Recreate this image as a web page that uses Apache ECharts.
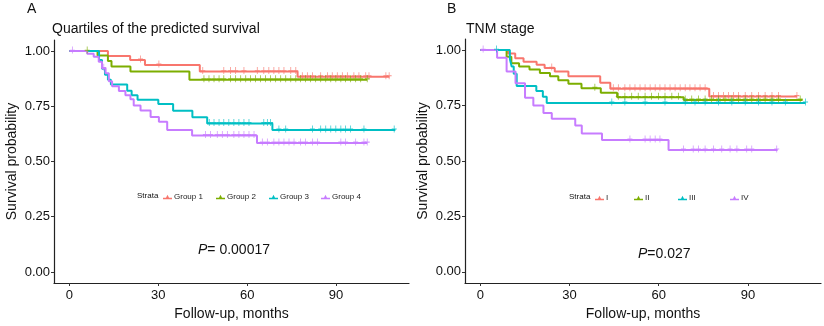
<!DOCTYPE html>
<html>
<head>
<meta charset="utf-8">
<script src="https://cdn.jsdelivr.net/npm/echarts@6/dist/echarts.min.js"></script>
<style>
  html, body { margin: 0; padding: 0; background: #fff; }
  #main { width: 824px; height: 326px; }
</style>
</head>
<body>
<div id="main"></div>
<script>
// ---- panel A: quartiles of predicted survival ----
const monthsA1 = [0, 13, 20.5, 25.5, 44, 77, 108];
const survA1 = [1, 0.978, 0.96, 0.937, 0.907, 0.884, 0.884];
const censorA1 = [24, 30.2, 45, 52.1, 54.4, 56.1, 58.9, 63.4, 65.6, 67.3, 69, 70.7, 72.4, 74.7, 76.4,
  78.6, 80.3, 82, 84.8, 87.1, 88.7, 90.4, 92.1, 93.8, 96, 97.7, 100, 101.1, 106.8, 107.9];

const monthsA2 = [0, 9.5, 13, 14.2, 20.6, 40.5, 100.5];
const survA2 = [1, 0.98, 0.955, 0.93, 0.907, 0.87, 0.87];
const censorA2 = [6, 45.4, 47.1, 48.8, 50.5, 52.1, 54.4, 56.1, 57.8, 59.5, 61.1, 62.8, 64.5, 66.2, 67.9,
  69.6, 71.3, 73, 74.7, 76.4, 78, 79.7, 81.4, 83.1, 84.8, 86.5, 88.2, 89.9, 91.6, 93.2, 94.9, 96.6, 98.3, 100.5];

const monthsA3 = [0, 10, 11, 12, 13, 14, 19.5, 21, 23, 30, 35, 41.5, 46.5, 68.5, 110];
const survA3 = [1, 0.96, 0.92, 0.893, 0.87, 0.848, 0.82, 0.8, 0.78, 0.76, 0.73, 0.7, 0.672, 0.643, 0.643];
const censorA3 = [47.2, 48.8, 50.5, 52.1, 53.8, 55.5, 57.2, 58.9, 60.6, 65.6, 66.8, 67.9, 70.7, 73, 82,
  84.8, 86.5, 88.2, 89.9, 91.6, 93.2, 94.9, 99.4, 109.6];

const monthsA4 = [0, 6, 8.2, 9.9, 11, 12.2, 13.3, 14.4, 16.7, 18.9, 20.6, 21.7, 24, 27.4, 30.2, 33, 41.4, 63.3, 100.5];
const survA4 = [1, 0.988, 0.974, 0.952, 0.922, 0.9, 0.863, 0.841, 0.819, 0.8, 0.782, 0.753, 0.731, 0.702, 0.68,
  0.643, 0.618, 0.584, 0.584];
const censorA4 = [1, 11.6, 45.9, 47.6, 49.9, 51.6, 53.3, 55.5, 57.2, 58.9, 60.6, 62.3, 65.1, 66.8, 69, 70.7,
  72.4, 74.1, 75.8, 78, 79.7, 82, 83.7, 91.6, 93.2, 96.6, 99.4, 100.5];

// ---- panel B: TNM stage ----
const monthsB1 = [0, 9.3, 11.7, 14.5, 18.9, 21.6, 25, 29.6, 40.3, 43.7, 77, 106.5];
const survB1 = [1, 0.985, 0.963, 0.948, 0.934, 0.919, 0.904, 0.882, 0.853, 0.826, 0.791, 0.791];
const censorB1 = [24, 44.7, 46.4, 48.6, 50.3, 52, 53.7, 55.4, 57.1, 58.8, 60.4, 62.1, 63.8, 65.5, 67.2, 68.9,
  70.5, 72.2, 73.9, 75.6, 78.4, 80.1, 81.8, 83.5, 85.2, 86.8, 89.1, 91.3, 93.6, 95.8, 98.1, 100.3, 106.5];

const monthsB2 = [0, 8.8, 10.4, 13, 16.5, 20, 23.4, 26.2, 29.6, 34, 40.5, 46, 68.4, 108.4];
const survB2 = [1, 0.97, 0.941, 0.926, 0.912, 0.897, 0.882, 0.864, 0.848, 0.828, 0.808, 0.787, 0.775, 0.775];
const censorB2 = [38.5, 46.4, 48.6, 50.9, 53.1, 55.4, 57.6, 59.9, 62.1, 64.4, 66.6, 68.9, 71.1, 73.4, 75.6,
  77.8, 80.1, 82.3, 84.6, 86.8, 89.1, 91.3, 93.6, 95.8, 98.1, 100.3, 107.6];

const monthsB3 = [0, 9.9, 10.5, 11.2, 12.2, 18.8, 21, 22.3, 109.4];
const survB3 = [1, 0.96, 0.926, 0.893, 0.838, 0.816, 0.79, 0.762, 0.762];
const censorB3 = [5.4, 44.2, 48.6, 55.4, 62.1, 68.9, 72.2, 75.6, 80.1, 84.6, 89.1, 93.6, 98.1, 102.6, 109.4];

const monthsB4 = [0, 5.6, 8.8, 11.8, 15, 17.8, 21.2, 24, 31.9, 34.1, 40.9, 63.3, 100];
const survB4 = [1, 0.965, 0.904, 0.85, 0.785, 0.75, 0.716, 0.69, 0.66, 0.624, 0.595, 0.55, 0.55];
const censorB4 = [0.9, 50.3, 55.4, 57.1, 58.8, 60.4, 68.3, 71.6, 73.4, 75.6, 78.4, 81.2, 84, 86.3, 89.6, 91.3, 99.7];

const groupNamesA = ['Group 1', 'Group 2', 'Group 3', 'Group 4'];
const groupNamesB = ['I', 'II', 'III', 'IV'];
const yTicks = [0, 0.25, 0.5, 0.75, 1];
const xTicks = [0, 30, 60, 90];

const colors = ['#F8766D', '#7CAE00', '#00BFC4', '#C77CFF'];
const font = "Arial, 'Liberation Sans', sans-serif";
const plusIcon = 'path://M0,4h9v1.4h-9z M3.8,0h1.4v9h-1.4z';
const keyIcon = 'path://M0,5h12v1.8h-12z M4,5L6,1L8,5z';

// survival level at time t (step function)
function survAt(times, surv, t) {
  let v = surv[0];
  for (let i = 0; i < times.length; i++) {
    if (times[i] <= t) v = surv[i];
  }
  return v;
}

function kmSeries(name, times, surv, censor, color, idx) {
  return [
    {
      name: name, type: 'line', step: 'end', xAxisIndex: idx, yAxisIndex: idx,
      data: times.map((t, i) => [t, surv[i]]),
      showSymbol: false, lineStyle: {color: color, width: 2}, itemStyle: {color: color},
      silent: true, z: 2
    },
    {
      name: name, type: 'scatter', xAxisIndex: idx, yAxisIndex: idx,
      data: censor.map(t => [t, survAt(times, surv, t)]),
      symbol: plusIcon, symbolSize: [5, 7], symbolOffset: [0, -1],
      itemStyle: {color: color}, silent: true, z: 3
    }
  ];
}

function xAxisOf(idx) {
  return {
    gridIndex: idx, type: 'value', min: -5.2, max: 114.6,
    name: 'Follow-up, months', nameLocation: 'middle', nameGap: 24,
    nameTextStyle: {fontSize: 14, color: '#111', fontFamily: font},
    axisLine: {show: true, onZero: false, lineStyle: {color: '#222', width: 1.2}},
    axisTick: {show: true, length: 3, customValues: xTicks, lineStyle: {color: '#333'}},
    axisLabel: {customValues: xTicks, fontSize: 13, color: '#111', fontFamily: font, margin: 6},
    splitLine: {show: false}
  };
}

function yAxisOf(idx) {
  return {
    gridIndex: idx, type: 'value', min: -0.05, max: 1.05,
    name: 'Survival probability', nameLocation: 'middle', nameGap: 35,
    nameTextStyle: {fontSize: 14, color: '#111', fontFamily: font},
    axisLine: {show: true, onZero: false, lineStyle: {color: '#222', width: 1.2}},
    axisTick: {show: true, length: 3, customValues: yTicks, lineStyle: {color: '#333'}},
    axisLabel: {customValues: yTicks, fontSize: 13, color: '#111', fontFamily: font, margin: 4,
      formatter: v => v.toFixed(2)},
    splitLine: {show: false}
  };
}

function legendItem(name, left, top) {
  return {
    data: [{name: name, icon: keyIcon}], left: left, top: top, padding: 0,
    itemWidth: 9, itemHeight: 6, itemGap: 2, selectedMode: false,
    textStyle: {fontSize: 8, color: '#222', fontFamily: font, padding: [0, 0, 0, -3]}
  };
}

function label(text, left, top, size) {
  return {text: text, left: left, top: top, padding: 0,
    textStyle: {fontSize: size, fontWeight: 'normal', color: '#111', fontFamily: font}};
}

function pLabel(rest, left, top) {
  return {text: '{i|P}{n|' + rest + '}', left: left, top: top, padding: 0,
    textStyle: {rich: {
      i: {fontSize: 14, fontStyle: 'italic', fontWeight: 'normal', color: '#111', fontFamily: font},
      n: {fontSize: 14, fontWeight: 'normal', color: '#111', fontFamily: font}}}};
}

const seriesA = [
  ...kmSeries(groupNamesA[0], monthsA1, survA1, censorA1, colors[0], 0),
  ...kmSeries(groupNamesA[1], monthsA2, survA2, censorA2, colors[1], 0),
  ...kmSeries(groupNamesA[2], monthsA3, survA3, censorA3, colors[2], 0),
  ...kmSeries(groupNamesA[3], monthsA4, survA4, censorA4, colors[3], 0)
];
const seriesB = [
  ...kmSeries(groupNamesB[0], monthsB1, survB1, censorB1, colors[0], 1),
  ...kmSeries(groupNamesB[1], monthsB2, survB2, censorB2, colors[1], 1),
  ...kmSeries(groupNamesB[2], monthsB3, survB3, censorB3, colors[2], 1),
  ...kmSeries(groupNamesB[3], monthsB4, survB4, censorB4, colors[3], 1)
];

const legendLeftA = [163, 216, 269, 321];
const legendLeftB = [595, 634, 678, 730];

let myChart = echarts.init(document.getElementById('main'), null, {renderer: 'canvas'});
myChart.setOption({
  animation: false,
  backgroundColor: '#fff',
  grid: [
    {left: 54, top: 40, width: 355, height: 248},
    {left: 465, top: 39, width: 356, height: 248}
  ],
  xAxis: [xAxisOf(0), xAxisOf(1)],
  yAxis: [yAxisOf(0), yAxisOf(1)],
  title: [
    label('A', 27, 2, 14),
    label('Quartiles of the predicted survival', 52, 22, 14),
    label('B', 447, 2, 14),
    label('TNM stage', 466, 22, 14),
    pLabel('= 0.00017', 198, 243),
    pLabel('=0.027', 638, 247),
    label('Strata', 137, 192, 8),
    label('Strata', 569, 193, 8)
  ],
  legend: [
    ...groupNamesA.map((n, i) => legendItem(n, legendLeftA[i], 193)),
    ...groupNamesB.map((n, i) => legendItem(n, legendLeftB[i], 194))
  ],
  series: [...seriesA, ...seriesB]
});
</script>
</body>
</html>
